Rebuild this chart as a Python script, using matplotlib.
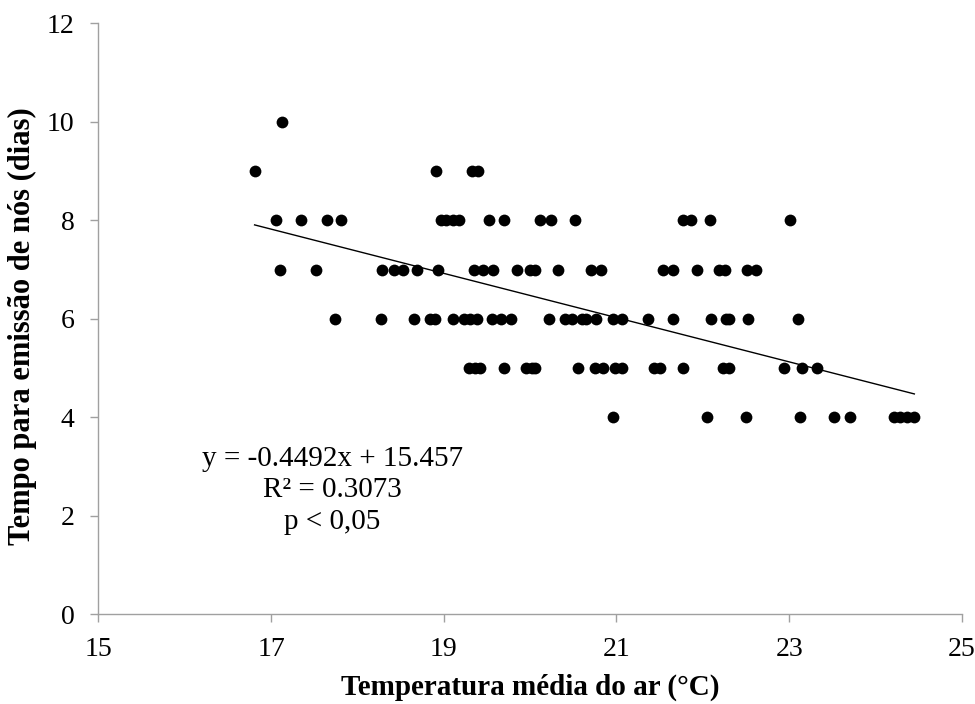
import numpy as np
import matplotlib
matplotlib.use("Agg")
import matplotlib.pyplot as plt

plt.rcParams['font.family'] = ['Liberation Serif', 'DejaVu Serif']

# Points, grouped by the y value (days)
temp_10 = [17.13]
temp_9 = [16.81, 18.91, 19.33, 19.40]
temp_8 = [17.06, 17.35, 17.65, 17.81, 18.97, 19.03, 19.11, 19.18, 19.52, 19.70,
          20.11, 20.24, 20.52, 21.77, 21.86, 22.08, 23.01]
temp_7 = [17.11, 17.52, 18.29, 18.42, 18.53, 18.69, 18.93, 19.35, 19.46, 19.57,
          19.85, 20.00, 20.06, 20.32, 20.71, 20.82, 21.54, 21.66, 21.93, 22.19,
          22.26, 22.51, 22.62]
temp_6 = [17.74, 18.27, 18.66, 18.84, 18.90, 19.11, 19.23, 19.30, 19.39, 19.56,
          19.66, 19.78, 20.22, 20.40, 20.49, 20.60, 20.65, 20.76, 20.96, 21.06,
          21.37, 21.66, 22.09, 22.27, 22.30, 22.52, 23.10]
temp_5 = [19.29, 19.36, 19.42, 19.70, 19.95, 20.02, 20.06, 20.56, 20.75, 20.85,
          20.98, 21.07, 21.44, 21.50, 21.77, 22.24, 22.30, 22.94, 23.15, 23.32]
temp_4 = [20.96, 22.05, 22.50, 23.13, 23.52, 23.70, 24.21, 24.28, 24.36, 24.45]

groups = {10: temp_10, 9: temp_9, 8: temp_8, 7: temp_7, 6: temp_6, 5: temp_5, 4: temp_4}

# Excel trend line as printed on the chart
slope = -0.4492
intercept = 15.457
r2 = 0.3073

x_ticks = [15, 17, 19, 21, 23, 25]
y_ticks = [0, 2, 4, 6, 8, 10, 12]

xs = np.concatenate([np.array(v) for v in groups.values()])
ys = np.concatenate([np.full(len(v), k) for k, v in groups.items()])

fig = plt.figure(figsize=(9.75, 7.04), dpi=100)
ax = fig.add_axes([0.1008, 0.1274, 0.8857, 0.8396])

ax.scatter(xs, ys, s=72, color='black', linewidths=0, zorder=3)

line_x = np.array([xs.min(), xs.max()])
ax.plot(line_x, slope * line_x + intercept, color='black', linewidth=1.0, zorder=2)

ax.set_xlim(15, 25)
ax.set_ylim(0, 12)
ax.set_xticks(x_ticks)
ax.set_yticks(y_ticks)

for side in ['top', 'right']:
    ax.spines[side].set_visible(False)
for side in ['left', 'bottom']:
    ax.spines[side].set_color('#a0a0a0')
    ax.spines[side].set_linewidth(1.0)
ax.tick_params(axis='both', direction='out', length=6, width=1.0, color='#a0a0a0',
               labelsize=20)
ax.tick_params(axis='x', pad=10)
ax.tick_params(axis='y', pad=11)

ax.set_xlabel('Temperatura média do ar (°C)', fontsize=21, fontweight='bold', labelpad=9)
ax.set_ylabel('Tempo para emissão de nós (dias)', fontsize=22, fontweight='bold')
ax.yaxis.set_label_coords(-0.071, 0.487)

eq_text = f"y = {slope}x + {intercept}\nR² = {r2}\np < 0,05"
ax.text(17.71, 2.52, eq_text, fontsize=21, ha='center', va='center',
        linespacing=1.27)

fig.savefig('out.png', dpi=100)
